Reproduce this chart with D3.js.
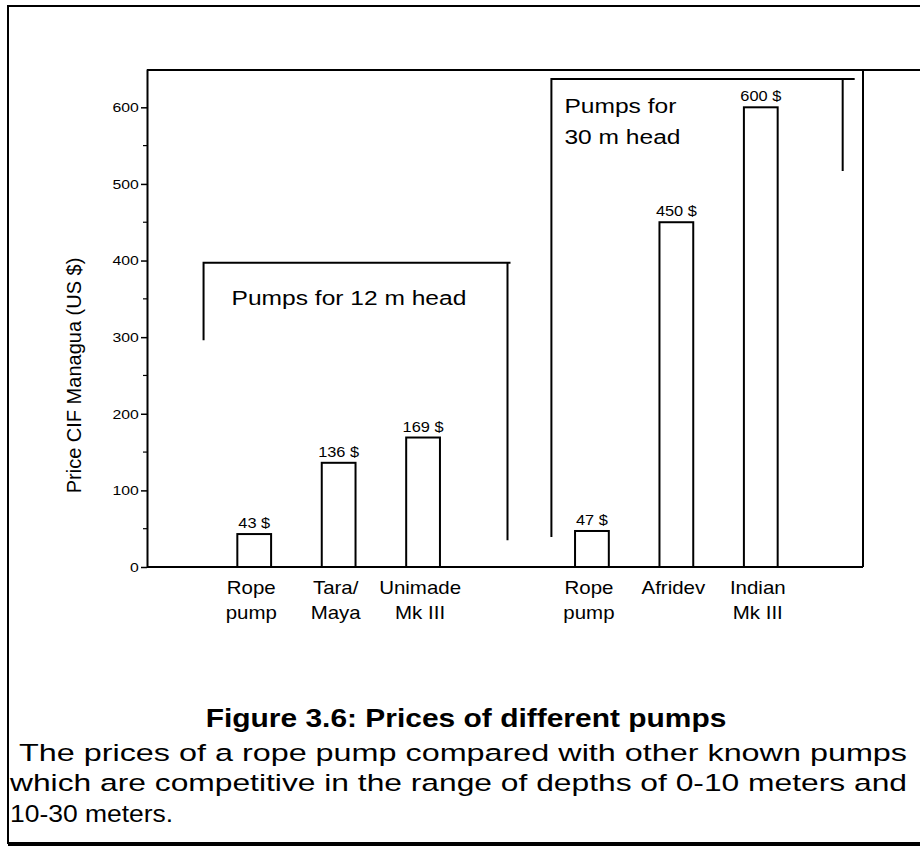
<!DOCTYPE html>
<html lang="en">

<head>
  <meta charset="UTF-8">
  <title>Prices of different pumps</title>
  <style>
    body {
      margin: 0;
      background: #fff;
    }

    svg {
      display: block;
      font-family: "Liberation Sans", Arial, Helvetica, sans-serif;
    }

    .bar {
      fill: #fff;
      stroke: #000;
      stroke-width: 2;
    }

    .ink {
      fill: none;
      stroke: #000;
      stroke-width: 2;
    }
  </style>
</head>

<body>

  <div id="chart"></div>

  <script src="https://cdnjs.cloudflare.com/ajax/libs/d3/7.8.5/d3.min.js"></script>
  <script>
    // one slot per pump, the 'gap' slot splits the two groups
    const pumpIds = ['rope-12', 'tara', 'unimade', 'gap', 'rope-30', 'afridev', 'indian']
    const pumpLabels = [
      ['Rope', 'pump'],
      ['Tara/', 'Maya'],
      ['Unimade', 'Mk III'],
      [],
      ['Rope', 'pump'],
      ['Afridev'],
      ['Indian', 'Mk III']
    ]
    const prices = [43, 136, 169, null, 47, 450, 600]

    const yTicks = [0, 100, 200, 300, 400, 500, 600]
    const yMinorTicks = [50, 150, 250, 350, 450, 550]

    const groupLabels = [['Pumps for 12 m head'], ['Pumps for', '30 m head']]

    const yLabel = 'Price CIF Managua (US $)'
    const captionTitle = 'Figure 3.6:  Prices of different pumps'
    const captionLines = [
      'The prices of a rope pump compared with other known pumps',
      'which  are competitive in the range of depths of 0-10 meters and',
      '10-30  meters.'
    ]

    const W = 920
    const H = 847
    // the scan is a bit wider than tall, stretch the text to match
    const SX = 1.17

    const plot = { left: 147, right: 863, top: 69, bottom: 567 }

    const svg = d3.select('#chart')
      .append('svg')
      .attr('width', W)
      .attr('height', H)

    const xScale = d3.scaleBand()
      .domain(pumpIds)
      .range([212, 803])
      .paddingInner(0.6)
      .paddingOuter(0.3)

    const yScale = d3.scaleLinear()
      .domain([0, 650])
      .range([plot.bottom, plot.top])

    function stretchedText(parent, x, y, txt, sx = SX) {
      return parent.append('text')
        .attr('transform', `translate(${x},${y}) scale(${sx},1)`)
        .text(txt)
    }

    // page frame
    svg.append('path')
      .attr('class', 'ink')
      .attr('d', `M${W},6 H8 V844`)
    svg.append('line')
      .attr('x1', 8).attr('x2', W)
      .attr('y1', 844).attr('y2', 844)
      .attr('stroke', '#000')
      .attr('stroke-width', 4)

    // plot frame: top line runs off the page, right edge down to baseline
    svg.append('path')
      .attr('class', 'ink')
      .attr('d', `M${plot.left},${plot.top + 1} H${W} M${plot.right},${plot.top + 1} V${plot.bottom} M${plot.left},${plot.bottom} H${plot.right}`)

    // y axis with major and minor ticks
    const yAxis = svg.append('g')
      .attr('transform', `translate(${plot.left},0)`)
      .call(d3.axisLeft(yScale).tickValues(yTicks).tickSize(6).tickSizeOuter(0).tickPadding(1))

    yAxis.select('.domain').attr('stroke-width', 2)
    yAxis.selectAll('.tick line').attr('stroke-width', 1.5)
    yAxis.selectAll('.tick text')
      .attr('font-size', 13.5)
      .attr('font-family', '"Liberation Sans", Arial, sans-serif')
      .attr('fill', '#000')
      .attr('transform', `scale(${SX},1)`)

    svg.append('g')
      .selectAll('line')
      .data(yMinorTicks)
      .join('line')
      .attr('x1', plot.left - 4)
      .attr('x2', plot.left)
      .attr('y1', d => yScale(d))
      .attr('y2', d => yScale(d))
      .attr('stroke', '#000')
      .attr('stroke-width', 1.2)

    svg.append('text')
      .attr('transform', `translate(81,${(yScale(100) + yScale(400)) / 2}) rotate(-90)`)
      .attr('text-anchor', 'middle')
      .attr('font-size', 20)
      .text(yLabel)

    // bars
    const rows = pumpIds.map((id, i) => ({ id, price: prices[i], label: pumpLabels[i] }))
    const withPrice = rows.filter(d => d.price !== null)

    svg.append('g')
      .selectAll('rect')
      .data(withPrice)
      .join('rect')
      .attr('class', 'bar')
      .attr('x', d => xScale(d.id))
      .attr('y', d => yScale(d.price))
      .attr('width', xScale.bandwidth())
      .attr('height', d => yScale(0) - yScale(d.price))

    // value labels above the bars
    const valueG = svg.append('g')
      .attr('font-size', 14)
      .attr('text-anchor', 'middle')
    withPrice.forEach(d => {
      stretchedText(valueG, xScale(d.id) + xScale.bandwidth() / 2, yScale(d.price) - 6, d.price + ' $')
    })

    // category labels, up to two lines each
    const catG = svg.append('g')
      .attr('font-size', 17.5)
      .attr('text-anchor', 'middle')
    rows.forEach(d => {
      d.label.forEach((line, k) => {
        stretchedText(catG, xScale(d.id) + xScale.bandwidth() / 2 - 3, yScale(0) + 27 + k * 25, line)
      })
    })

    // group brackets
    const step = xScale.step()
    const box12 = {
      left: xScale('rope-12') - 0.4 * step,
      right: xScale('unimade') + xScale.bandwidth() + 0.8 * step,
      top: yScale(397)
    }
    svg.append('path')
      .attr('class', 'ink')
      .attr('stroke-width', 1.8)
      .attr('d', `M${box12.left},${yScale(296)} V${box12.top} H${box12.right + 3} M${box12.right},${box12.top} V${yScale(35)}`)

    const box30 = {
      left: xScale('rope-30') - 0.28 * step,
      right: xScale('indian') + xScale.bandwidth() + 0.77 * step,
      top: yScale(637)
    }
    svg.append('path')
      .attr('class', 'ink')
      .attr('stroke-width', 1.8)
      .attr('d', `M${box30.left},${yScale(39)} V${box30.top} H${box30.right + 12} M${box30.right},${box30.top} V${yScale(517)}`)

    const groupG = svg.append('g')
      .attr('font-size', 21)
    stretchedText(groupG, box12.left + 28, box12.top + 42, groupLabels[0][0])
    groupLabels[1].forEach((line, k) => {
      stretchedText(groupG, box30.left + 13, box30.top + 34 + k * 31, line)
    })

    // caption
    svg.append('text')
      .attr('transform', `translate(466,727) scale(1.13,1)`)
      .attr('text-anchor', 'middle')
      .attr('font-size', 26.5)
      .attr('font-weight', 'bold')
      .text(captionTitle)

    const capG = svg.append('g')
      .attr('font-size', 24.5)
    capG.append('text')
      .attr('x', 19)
      .attr('y', 761)
      .attr('textLength', 888)
      .attr('lengthAdjust', 'spacingAndGlyphs')
      .text(captionLines[0])
    capG.append('text')
      .attr('x', 10)
      .attr('y', 791)
      .attr('textLength', 897)
      .attr('lengthAdjust', 'spacingAndGlyphs')
      .text(captionLines[1])
    stretchedText(capG, 10, 822, captionLines[2], 1.08)
  </script>
</body>

</html>
